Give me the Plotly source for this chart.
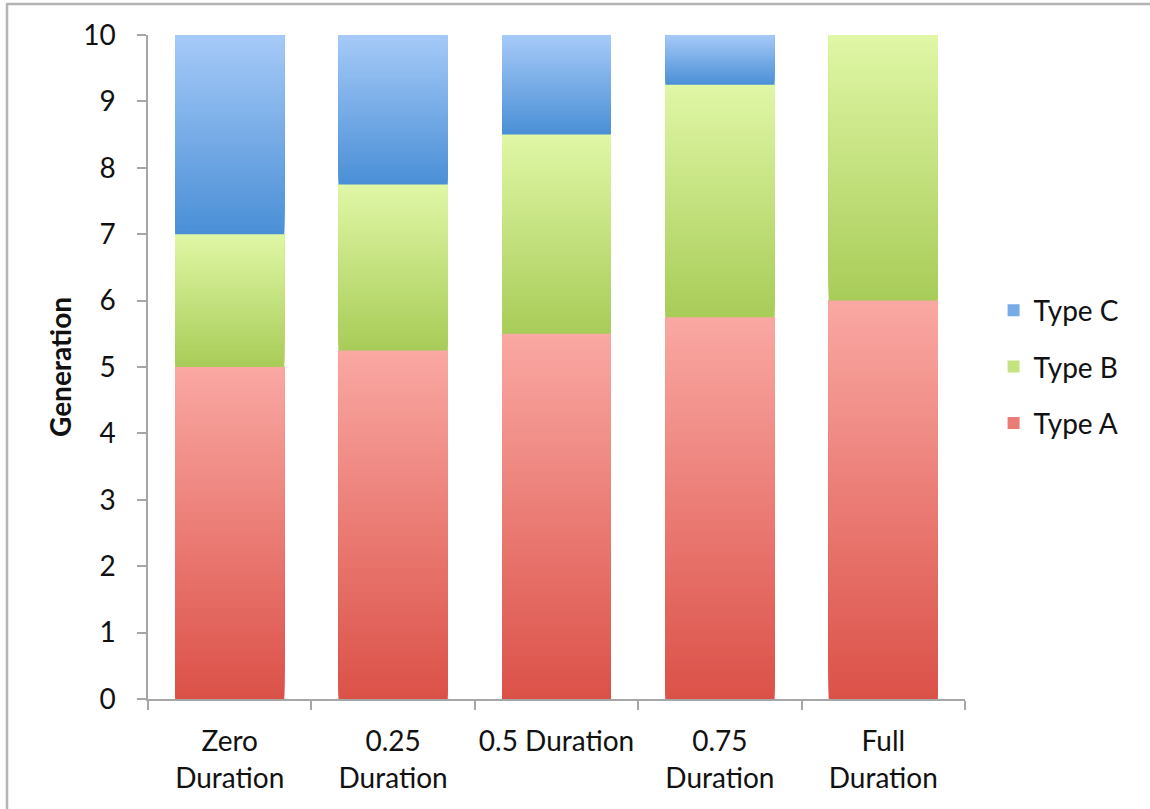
import plotly.graph_objects as go

# ---- data -------------------------------------------------------------
categories = ["Zero<br>Duration", "0.25<br>Duration", "0.5 Duration",
              "0.75<br>Duration", "Full<br>Duration"]
type_a = [5.0, 5.25, 5.5, 5.75, 6.0]
type_b = [2.0, 2.5, 3.0, 3.5, 4.0]
type_c = [3.0, 2.25, 1.5, 0.75, 0.0]
series_names = ["Type A", "Type B", "Type C"]

# ---- style ------------------------------------------------------------
FONT = "Lato, 'Open Sans', sans-serif"
# (top colour, bottom colour) of each segment's vertical gradient
gradients = {
    "Type A": ((250, 168, 163), (219, 81, 72)),
    "Type B": ((224, 247, 166), (168, 204, 88)),
    "Type C": ((166, 202, 248), (74, 143, 214)),
}
BAND = 0.04          # height of one gradient band, in axis units
AXIS_GREY = "#a6a6a6"

W, H = 1150, 809
ML, MR, MT, MB = 148, 185, 35, 110
PW, PH = W - ML - MR, H - MT - MB


def rgb(c):
    return "rgb(%d,%d,%d)" % tuple(int(round(v)) for v in c)


def mix(top, bottom, t):
    # t = 0 at the bottom of a segment, 1 at its top
    return tuple(b + (a - b) * t for a, b in zip(top, bottom))


def px_x(p):
    return (p - ML) / PW


def px_y(p):
    return (H - MB - p) / PH


values = {"Type A": type_a, "Type B": type_b, "Type C": type_c}

fig = go.Figure()

# stacked segments (base = sum of the segments below)
bases = [0.0] * len(categories)
seg_bases = {}
for rank, name in enumerate(series_names):
    seg_bases[name] = list(bases)
    top, bottom = gradients[name]
    fig.add_trace(go.Bar(
        x=categories, y=values[name], base=seg_bases[name], name=name,
        legendgroup=name, legendrank=len(series_names) - rank,
        marker=dict(color=rgb(mix(top, bottom, 0.5)), line_width=0),
        hovertemplate="%{x}<br>" + name + ": %{y}<extra></extra>",
    ))
    bases = [b + v for b, v in zip(bases, values[name])]

# vertical gradient of every segment: each band runs from its own bottom
# up to the segment top, and higher bands are painted over lower ones
for name in series_names:
    top, bottom = gradients[name]
    bx, by, bb, bc = [], [], [], []
    for cat, base, h in zip(categories, seg_bases[name], values[name]):
        if h <= 0:
            continue
        n = max(1, int(round(h / BAND)))
        step = h / n
        for k in range(n):
            bx.append(cat)
            by.append(h - k * step)
            bb.append(base + k * step)
            bc.append(rgb(mix(top, bottom, (k + 0.5) / n)))
    fig.add_trace(go.Bar(
        x=bx, y=by, base=bb, showlegend=False, hoverinfo="skip",
        legendgroup=name,
        marker=dict(color=bc, line_width=0),
    ))

# outer frame of the chart area
frame = dict(type="line", xref="paper", yref="paper",
             line=dict(color="#b4b4b4", width=2.5))
fig.add_shape(x0=px_x(6), x1=px_x(W + 2), y0=px_y(4), y1=px_y(4), **frame)
fig.add_shape(x0=px_x(7), x1=px_x(7), y0=px_y(4), y1=px_y(H + 2), **frame)

fig.update_layout(
    width=W, height=H,
    margin=dict(l=ML, r=MR, t=MT, b=MB, pad=0, autoexpand=False),
    paper_bgcolor="white", plot_bgcolor="white",
    barmode="overlay", bargap=0.333,
    font=dict(family=FONT, size=28, color="#111111"),
    showlegend=True,
    legend=dict(
        traceorder="grouped", x=1.035, xanchor="left", y=0.5,
        yanchor="middle", font=dict(size=28), itemclick=False,
        tracegroupgap=17, bgcolor="rgba(0,0,0,0)",
    ),
)

fig.update_xaxes(
    type="category", range=[-0.5, 4.5], automargin=False,
    showline=True, linecolor=AXIS_GREY, linewidth=1.5,
    ticks="outside", tickson="boundaries", ticklen=9,
    tickcolor=AXIS_GREY, tickwidth=1.5, tickangle=0,
    showgrid=False, zeroline=False,
    ticklabelstandoff=17,
    tickfont=dict(size=28),
)
fig.update_yaxes(
    range=[0, 10], dtick=1, tick0=0, automargin=False,
    showline=True, linecolor=AXIS_GREY, linewidth=1.5,
    ticks="outside", ticklen=9, tickcolor=AXIS_GREY, tickwidth=1.5,
    showgrid=False, zeroline=False,
    ticklabelstandoff=16,
    tickfont=dict(size=28),
    title=dict(text="<b>Generation</b>", font=dict(size=28), standoff=3),
)

fig.write_html("out.html")
